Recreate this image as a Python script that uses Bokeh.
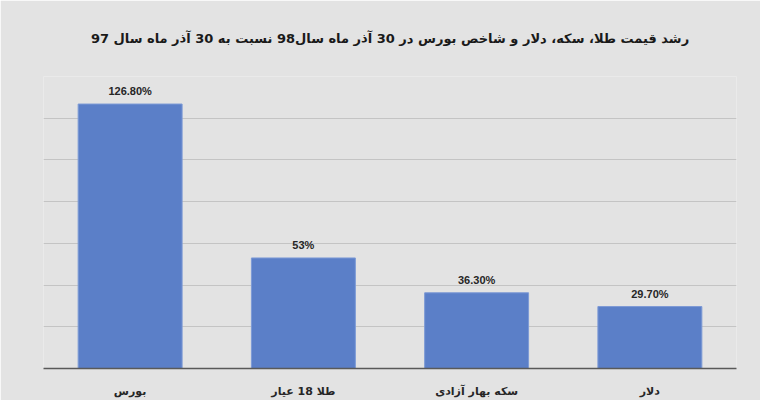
from bokeh.plotting import figure
from bokeh.models import ColumnDataSource, FixedTicker, LabelSet, Title
from bokeh.core.properties import value
from bokeh.embed import file_html
from bokeh.resources import INLINE

categories = ["بورس", "طلا 18 عیار", "سکه بهار آزادی", "دلار"]
values = [126.8, 53, 36.3, 29.7]
value_labels = ["126.80%", "53%", "36.30%", "29.70%"]
y_ticks = [0, 20, 40, 60, 80, 100, 120, 140]
title_text = "رشد قیمت طلا، سکه، دلار و شاخص بورس در 30 آذر ماه سال98 نسبت به 30 آذر ماه سال 97"

src = ColumnDataSource(dict(cat=categories, val=values, lab=value_labels))

p = figure(x_range=categories, y_range=(0, 140), width=760, height=400,
           output_backend="svg", toolbar_location=None,
           min_border_left=43, min_border_right=24, min_border_top=76, min_border_bottom=28)
p.x_range.range_padding = 0

bg = "#e3e3e3"
p.background_fill_color = bg
p.border_fill_color = bg
p.outline_line_color = None

p.title.text = title_text
p.title.align = "center"
p.title.text_font = "DejaVu Sans"
p.title.text_font_size = "13px"
p.title.text_font_style = "bold"
p.title.text_color = "#1a1a1a"

# empty spacer title between the real title and the frame
p.add_layout(Title(text=" ", text_font_size="12px"), "above")

p.vbar(x="cat", top="val", width=0.6, source=src, fill_color="#5b7fc8",
       line_color="#7d9ad6", line_width=1)

p.add_layout(LabelSet(x="cat", y="val", text="lab", source=src, text_align="center",
                      text_baseline="bottom", y_offset=7,
                      text_font=value("Liberation Sans"),
                      text_font_size=value("11px"), text_font_style="bold",
                      text_color="#262626"))

p.yaxis.visible = False
p.yaxis.ticker = FixedTicker(ticks=y_ticks)
p.ygrid.ticker = FixedTicker(ticks=y_ticks)
p.ygrid.grid_line_color = "#c4c4c4"
p.ygrid.grid_line_width = 1
p.xgrid.grid_line_color = None

p.xaxis.axis_line_color = "#595959"
p.xaxis.axis_line_width = 1.5
p.xaxis.major_tick_line_color = None
p.xaxis.minor_tick_line_color = None
p.xaxis.major_label_standoff = 10
p.xaxis.major_label_text_font = "DejaVu Sans"
p.xaxis.major_label_text_font_size = "11px"
p.xaxis.major_label_text_font_style = "bold"
p.xaxis.major_label_text_color = "#262626"

open("out.html", "w").write(file_html(p, INLINE))
